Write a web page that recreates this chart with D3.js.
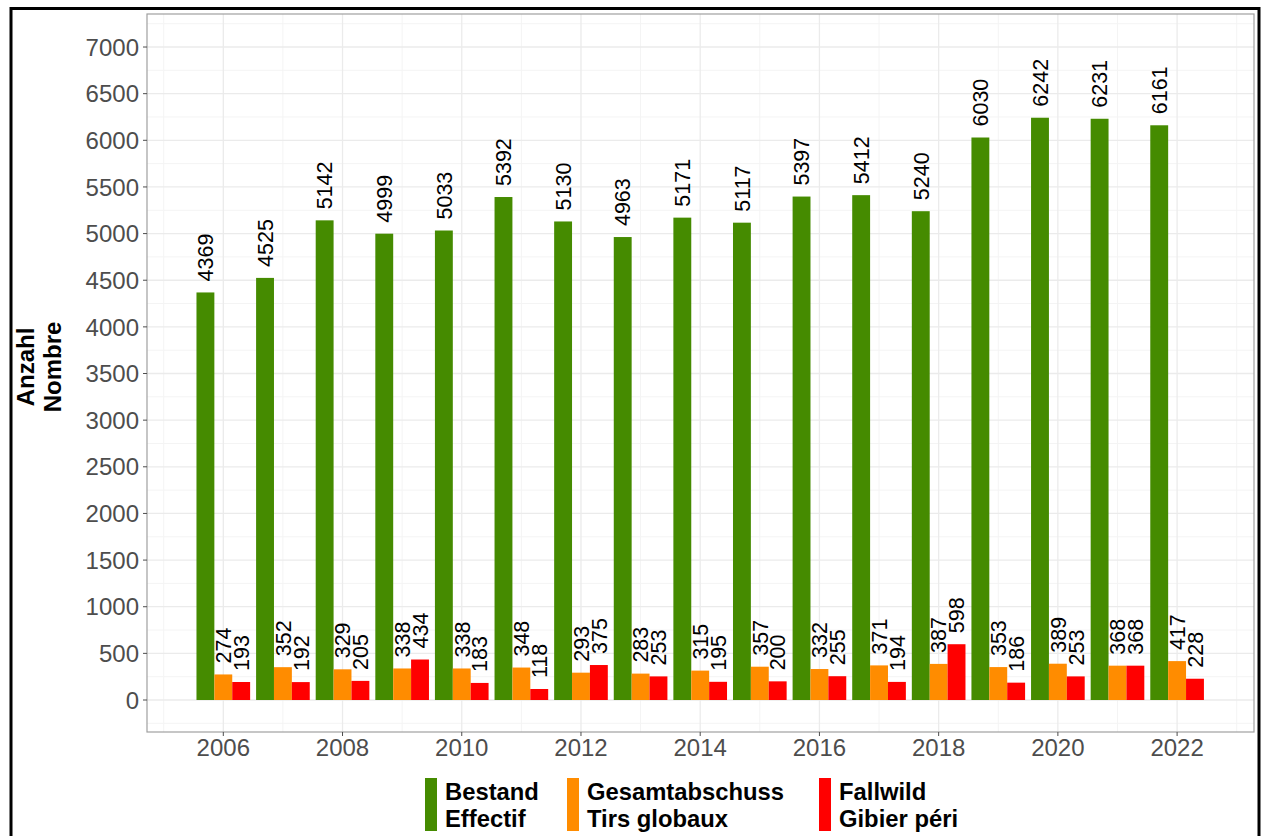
<!DOCTYPE html>
<html><head><meta charset="utf-8">
<script src="https://cdn.jsdelivr.net/npm/d3@7"></script>
<style>body{margin:0;background:#fff;} text{font-family:"Liberation Sans",Arial,sans-serif;}</style>
</head><body>
<svg id="c" width="1266" height="836"></svg>
<script>
const years = [2006,2007,2008,2009,2010,2011,2012,2013,2014,2015,2016,2017,2018,2019,2020,2021,2022];
const bestand = [4369,4525,5142,4999,5033,5392,5130,4963,5171,5117,5397,5412,5240,6030,6242,6231,6161];
const gesamtabschuss = [274,352,329,338,338,348,293,283,315,357,332,371,387,353,389,368,417];
const fallwild = [193,192,205,434,183,118,375,253,195,200,255,194,598,186,253,368,228];
const seriesNames = [["Bestand","Effectif"],["Gesamtabschuss","Tirs globaux"],["Fallwild","Gibier péri"]];
const seriesColors = ["#458B00","#FF8C00","#FF0000"];
const yTicks = [0,500,1000,1500,2000,2500,3000,3500,4000,4500,5000,5500,6000,6500,7000];
const xTicks = [2006,2008,2010,2012,2014,2016,2018,2020,2022];

const svg = d3.select("#c");
const P = {l:147, r:1254, t:14, b:732};
const x = d3.scaleLinear().domain([2004.72, 2023.29]).range([P.l, P.r]);
const y = d3.scaleLinear().domain([-343, 7354]).range([P.b, P.t]);

// outer frame
svg.append("rect").attr("x",11).attr("y",8.5).attr("width",1248).attr("height",900)
  .attr("fill","none").attr("stroke","#000").attr("stroke-width",3);

const g = svg.append("g");
// minor grid
const minorY = d3.range(-250, 7354, 500);
g.selectAll(".mgy").data(minorY).join("line")
  .attr("x1",P.l).attr("x2",P.r).attr("y1",d=>y(d)).attr("y2",d=>y(d))
  .attr("stroke","#f4f4f4").attr("stroke-width",1);
const minorX = d3.range(2005, 2024, 2);
g.selectAll(".mgx").data(minorX).join("line")
  .attr("y1",P.t).attr("y2",P.b).attr("x1",d=>x(d)).attr("x2",d=>x(d))
  .attr("stroke","#f4f4f4").attr("stroke-width",1);
// major grid
g.selectAll(".Mgy").data(yTicks).join("line")
  .attr("x1",P.l).attr("x2",P.r).attr("y1",d=>y(d)).attr("y2",d=>y(d))
  .attr("stroke","#ebebeb").attr("stroke-width",1.3);
g.selectAll(".Mgx").data(xTicks).join("line")
  .attr("y1",P.t).attr("y2",P.b).attr("x1",d=>x(d)).attr("x2",d=>x(d))
  .attr("stroke","#ebebeb").attr("stroke-width",1.3);

const series = [bestand, gesamtabschuss, fallwild];
const bw = 0.3;
series.forEach((vals, si) => {
  const off = (si - 1) * bw;
  const data = years.map((yr,i)=>({yr, v:vals[i]}));
  g.selectAll(".bar"+si).data(data).join("rect")
    .attr("x", d=>x(d.yr + off - bw/2))
    .attr("width", d=>x(d.yr + off + bw/2) - x(d.yr + off - bw/2))
    .attr("y", d=>y(d.v))
    .attr("height", d=>y(0) - y(d.v))
    .attr("fill", seriesColors[si]);
  g.selectAll(".lab"+si).data(data).join("text")
    .attr("transform", d=>`translate(${x(d.yr+off)},${y(d.v)-11}) rotate(-90)`)
    .attr("dy","0.36em")
    .attr("text-anchor","start")
    .attr("font-size",21.5).attr("fill","#000")
    .text(d=>d.v);
});

// panel border
svg.append("rect").attr("x",P.l).attr("y",P.t).attr("width",P.r-P.l).attr("height",P.b-P.t)
  .attr("fill","none").attr("stroke","#a0a0a0").attr("stroke-width",1.2);

// y axis
const ya = svg.append("g");
ya.selectAll("line").data(yTicks).join("line")
  .attr("x1",P.l-4).attr("x2",P.l).attr("y1",d=>y(d)).attr("y2",d=>y(d))
  .attr("stroke","#4d4d4d").attr("stroke-width",1);
ya.selectAll("text").data(yTicks).join("text")
  .attr("x",P.l-8).attr("y",d=>y(d)).attr("dy","0.36em")
  .attr("text-anchor","end").attr("font-size",24).attr("fill","#4d4d4d")
  .text(d=>d);
// x axis
const xa = svg.append("g");
xa.selectAll("line").data(xTicks).join("line")
  .attr("y1",P.b).attr("y2",P.b+4).attr("x1",d=>x(d)).attr("x2",d=>x(d))
  .attr("stroke","#4d4d4d").attr("stroke-width",1);
xa.selectAll("text").data(xTicks).join("text")
  .attr("x",d=>x(d)).attr("y",756)
  .attr("text-anchor","middle").attr("font-size",24).attr("fill","#4d4d4d")
  .text(d=>d);

// y title
const yt = svg.append("text").attr("transform","translate(0,367) rotate(-90)")
  .attr("text-anchor","middle").attr("font-size",24).attr("font-weight","bold").attr("fill","#000");
yt.append("tspan").attr("x",0).attr("y",34).text("Anzahl");
yt.append("tspan").attr("x",0).attr("y",61).text("Nombre");

// legend
const legX = [425, 567, 819];
seriesNames.forEach((nm, i) => {
  svg.append("rect").attr("x",legX[i]).attr("y",778).attr("width",12).attr("height",53)
    .attr("fill",seriesColors[i]);
  const t = svg.append("text").attr("font-size",23.8).attr("font-weight","bold").attr("fill","#000");
  t.append("tspan").attr("x",legX[i]+20).attr("y",800).text(nm[0]);
  t.append("tspan").attr("x",legX[i]+20).attr("y",827).text(nm[1]);
});
</script>
</body></html>
